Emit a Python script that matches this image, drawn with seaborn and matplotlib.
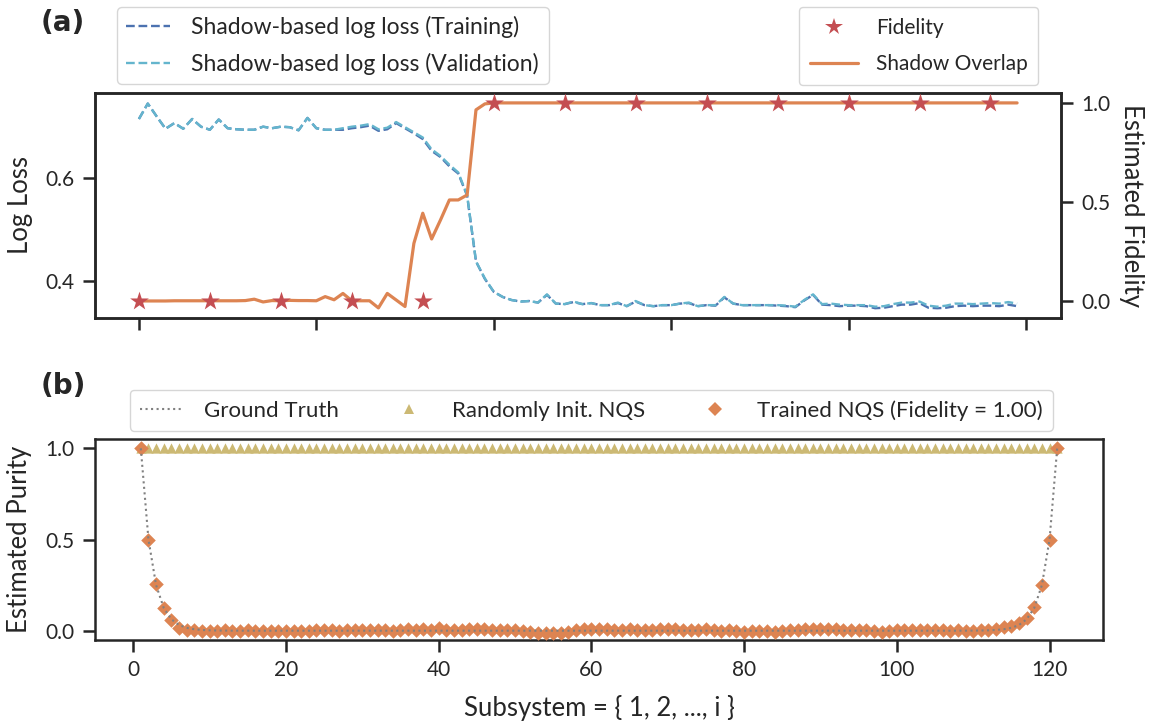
import matplotlib
matplotlib.use("Agg")
import matplotlib.pyplot as plt
import seaborn as sns
from matplotlib.lines import Line2D

# ---------------- data ----------------
epochs = list(range(100))

loss_val = [0.715, 0.745, 0.720, 0.696, 0.707, 0.696, 0.715, 0.700, 0.694, 0.714,
            0.697, 0.695, 0.694, 0.694, 0.700, 0.697, 0.700, 0.699, 0.693, 0.717,
            0.697, 0.694, 0.694, 0.697, 0.700, 0.702, 0.705, 0.695, 0.698, 0.709,
            0.699, 0.689, 0.679, 0.656, 0.643, 0.626, 0.611, 0.567, 0.438, 0.405,
            0.379, 0.369, 0.363, 0.360, 0.361, 0.358, 0.374, 0.356, 0.355, 0.360,
            0.355, 0.357, 0.353, 0.353, 0.358, 0.351, 0.361, 0.353, 0.351, 0.353,
            0.353, 0.356, 0.358, 0.351, 0.353, 0.353, 0.369, 0.356, 0.353, 0.353,
            0.353, 0.353, 0.353, 0.352, 0.350, 0.363, 0.374, 0.355, 0.356, 0.354,
            0.353, 0.353, 0.353, 0.350, 0.351, 0.355, 0.358, 0.358, 0.360, 0.352,
            0.350, 0.352, 0.356, 0.356, 0.355, 0.356, 0.357, 0.356, 0.359, 0.356]

loss_train = [0.715, 0.745, 0.720, 0.696, 0.707, 0.696, 0.715, 0.700, 0.694, 0.714,
              0.697, 0.695, 0.694, 0.694, 0.700, 0.697, 0.700, 0.699, 0.693, 0.717,
              0.697, 0.694, 0.694, 0.694, 0.697, 0.699, 0.702, 0.692, 0.695, 0.707,
              0.697, 0.687, 0.676, 0.653, 0.641, 0.623, 0.609, 0.566, 0.438, 0.404,
              0.379, 0.369, 0.363, 0.360, 0.361, 0.358, 0.373, 0.356, 0.355, 0.359,
              0.355, 0.357, 0.353, 0.353, 0.357, 0.351, 0.360, 0.353, 0.351, 0.353,
              0.353, 0.356, 0.357, 0.351, 0.353, 0.352, 0.368, 0.356, 0.353, 0.353,
              0.353, 0.353, 0.352, 0.351, 0.349, 0.362, 0.373, 0.354, 0.353, 0.351,
              0.352, 0.352, 0.351, 0.347, 0.348, 0.351, 0.354, 0.354, 0.357, 0.348,
              0.347, 0.348, 0.351, 0.352, 0.351, 0.352, 0.352, 0.351, 0.354, 0.351]

overlap = [0.000, 0.000, 0.000, 0.000, 0.001, 0.001, 0.001, 0.001, 0.001, 0.001,
           0.001, 0.001, 0.002, 0.009, -0.005, 0.002, 0.001, 0.003, 0.002, 0.002,
           0.001, 0.022, 0.006, 0.038, 0.001, 0.001, 0.001, -0.035, 0.038, 0.005,
           -0.028, 0.291, 0.443, 0.313, 0.409, 0.510, 0.510, 0.535, 0.965, 0.995,
           1.0, 1.0, 1.0, 1.0, 1.0, 1.0, 1.0, 1.0, 1.0, 1.0,
           1.0, 1.0, 1.0, 1.0, 1.0, 1.0, 1.0, 1.0, 1.0, 1.0,
           1.0, 1.0, 1.0, 1.0, 1.0, 1.0, 1.0, 1.0, 1.0, 1.0,
           1.0, 1.0, 1.0, 1.0, 1.0, 1.0, 1.0, 1.0, 1.0, 1.0,
           1.0, 1.0, 1.0, 1.0, 1.0, 1.0, 1.0, 1.0, 1.0, 1.0,
           1.0, 1.0, 1.0, 1.0, 1.0, 1.0, 1.0, 1.0, 1.0, 1.0]

fid_x = [0, 8, 16, 24, 32, 40, 48, 56, 64, 72, 80, 88, 96]
fid_y = [0.0, 0.0, 0.0, 0.0, 0.0, 1.0, 1.0, 1.0, 1.0, 1.0, 1.0, 1.0, 1.0]

subsys = list(range(1, 122))

purity_gt = [1.0, 0.5, 0.25, 0.125, 0.0625, 0.0313, 0.0156, 0.0078, 0.0039, 0.002,
             0.001, 0.0005, 0.0002, 0.0001, 0.0, 0.0, 0.0, 0.0, 0.0, 0.0,
             0.0, 0.0, 0.0, 0.0, 0.0, 0.0, 0.0, 0.0, 0.0, 0.0,
             0.0, 0.0, 0.0, 0.0, 0.0, 0.0, 0.0, 0.0, 0.0, 0.0,
             0.0, 0.0, 0.0, 0.0, 0.0, 0.0, 0.0, 0.0, 0.0, 0.0,
             0.0, 0.0, 0.0, 0.0, 0.0, 0.0, 0.0, 0.0, 0.0, 0.0,
             0.0, 0.0, 0.0, 0.0, 0.0, 0.0, 0.0, 0.0, 0.0, 0.0,
             0.0, 0.0, 0.0, 0.0, 0.0, 0.0, 0.0, 0.0, 0.0, 0.0,
             0.0, 0.0, 0.0, 0.0, 0.0, 0.0, 0.0, 0.0, 0.0, 0.0,
             0.0, 0.0, 0.0, 0.0, 0.0, 0.0, 0.0, 0.0, 0.0, 0.0,
             0.0, 0.0, 0.0, 0.0, 0.0, 0.0, 0.0, 0.0001, 0.0002, 0.0005,
             0.001, 0.002, 0.0039, 0.0078, 0.0156, 0.0313, 0.0625, 0.125, 0.25, 0.5,
             1.0]

purity_rand = [1.0, 1.0, 1.0, 1.0, 1.0, 1.0, 1.0, 1.0, 1.0, 1.0,
               1.0, 1.0, 1.0, 1.0, 1.0, 1.0, 1.0, 1.0, 1.0, 1.0,
               1.0, 1.0, 1.0, 1.0, 1.0, 1.0, 1.0, 1.0, 1.0, 1.0,
               1.0, 1.0, 1.0, 1.0, 1.0, 1.0, 1.0, 1.0, 1.0, 1.0,
               1.0, 1.0, 1.0, 1.0, 1.0, 1.0, 1.0, 1.0, 1.0, 1.0,
               1.0, 1.0, 1.0, 1.0, 1.0, 1.0, 1.0, 1.0, 1.0, 1.0,
               1.0, 1.0, 1.0, 1.0, 1.0, 1.0, 1.0, 1.0, 1.0, 1.0,
               1.0, 1.0, 1.0, 1.0, 1.0, 1.0, 1.0, 1.0, 1.0, 1.0,
               1.0, 1.0, 1.0, 1.0, 1.0, 1.0, 1.0, 1.0, 1.0, 1.0,
               1.0, 1.0, 1.0, 1.0, 1.0, 1.0, 1.0, 1.0, 1.0, 1.0,
               1.0, 1.0, 1.0, 1.0, 1.0, 1.0, 1.0, 1.0, 1.0, 1.0,
               1.0, 1.0, 1.0, 1.0, 1.0, 1.0, 1.0, 1.0, 1.0, 1.0,
               1.0]

purity_trained = [1.0, 0.50, 0.254, 0.126, 0.057, 0.016, 0.004, 0.002, 0.000, 0.001,
                  0.000, 0.002, 0.001, 0.000, 0.002, 0.001, 0.000, 0.001, -0.001, 0.000,
                  -0.003, -0.001, 0.001, 0.002, 0.003, 0.002, 0.001, 0.003, 0.002, 0.004,
                  0.003, 0.002, 0.004, 0.001, 0.003, 0.012, 0.005, 0.008, 0.004, 0.014,
                  0.003, 0.006, 0.005, 0.008, 0.010, 0.008, 0.004, 0.006, 0.002, 0.003,
                  0.000, -0.005, -0.010, -0.012, -0.010, -0.012, -0.006, 0.006, 0.008, 0.010,
                  0.008, 0.010, 0.006, 0.005, 0.012, 0.005, 0.006, 0.004, 0.008, 0.011,
                  0.007, 0.004, 0.005, 0.002, 0.010, 0.003, 0.000, 0.002, -0.003, -0.006,
                  0.000, -0.004, 0.000, -0.008, 0.000, 0.005, 0.006, 0.010, 0.008, 0.012,
                  0.008, 0.010, 0.006, 0.004, 0.002, 0.003, -0.002, -0.006, 0.000, 0.003,
                  0.004, 0.005, 0.002, 0.004, 0.003, 0.004, 0.000, 0.002, -0.002, 0.000,
                  0.002, 0.005, 0.010, 0.018, 0.027, 0.040, 0.067, 0.128, 0.250, 0.500,
                  1.0]

# ---------------- style ----------------
sns.set_theme(style="ticks", palette="deep")
plt.rcParams['font.family'] = ['Lato', 'DejaVu Sans']
plt.rcParams['axes.edgecolor'] = '#262626'
plt.rcParams['text.color'] = '#262626'
plt.rcParams['axes.labelcolor'] = '#262626'

pal = sns.color_palette("deep")
c_blue, c_orange, c_red, c_yellow, c_cyan = pal[0], pal[1], pal[3], pal[8], pal[9]

TICK_FS = 15
LABEL_FS = 18.5
W, H = 1151, 721
fig = plt.figure(figsize=(W / 100, H / 100), dpi=100)

ax1 = fig.add_axes([95 / W, (H - 318) / H, (1061 - 95) / W, (318 - 93) / H])
ax3 = fig.add_axes([95 / W, (H - 640) / H, (1103 - 95) / W, (640 - 439) / H])

# ---------------- panel (a) ----------------
sns.lineplot(x=epochs, y=loss_train, ax=ax1, color=c_blue, linestyle='--', lw=1.7)
sns.lineplot(x=epochs, y=loss_val, ax=ax1, color=c_cyan, linestyle='--', lw=1.7)
ax1.set_xlim(-4.95, 103.95)
ax1.set_ylim(0.328, 0.7655)
ax1.set_xticks([0, 20, 40, 60, 80, 100])
ax1.set_xticklabels([])
ax1.set_yticks([0.4, 0.6])
ax1.set_ylabel("Log Loss", fontsize=LABEL_FS, labelpad=9)

ax2 = ax1.twinx()
sns.lineplot(x=epochs, y=overlap, ax=ax2, color=c_orange, lw=2.3)
sns.scatterplot(x=fid_x, y=fid_y, ax=ax2, marker='*', s=200, color=c_red,
                linewidth=0, zorder=4)
ax2.set_ylim(-0.086, 1.05)
ax2.set_yticks([0.0, 0.5, 1.0])
ax2.set_ylabel("Estimated Fidelity", fontsize=LABEL_FS, rotation=270,
               va='bottom', labelpad=6)

for a in (ax1, ax2):
    a.tick_params(labelsize=TICK_FS, length=8.5, width=1.8, pad=6, colors='#262626')
    for s in a.spines.values():
        s.set_linewidth(1.8)

h_tr = Line2D([], [], color=c_blue, linestyle='--', lw=1.7)
h_va = Line2D([], [], color=c_cyan, linestyle='--', lw=1.7)
fig.legend([h_tr, h_va],
           ["Shadow-based log loss (Training)", "Shadow-based log loss (Validation)"],
           loc='upper left', bbox_to_anchor=(117 / W, 1 - 7 / H),
           bbox_transform=fig.transFigure, borderaxespad=0, fontsize=16.5,
           handlelength=1.92, handletextpad=0.92, labelspacing=0.61, borderpad=0.41,
           frameon=True)

h_f = Line2D([], [], color=c_red, marker='*', linestyle='none', markersize=13,
             markeredgewidth=0)
h_o = Line2D([], [], color=c_orange, lw=2.3)
fig.legend([h_f, h_o], ["Fidelity", "Shadow Overlap"],
           loc='upper left', bbox_to_anchor=(799 / W, 1 - 7 / H),
           bbox_transform=fig.transFigure, borderaxespad=0, fontsize=15,
           handlelength=2.3, handletextpad=0.85, labelspacing=0.78, borderpad=0.53,
           frameon=True)

# ---------------- panel (b) ----------------
sns.scatterplot(x=subsys, y=purity_rand, ax=ax3, marker='^', s=55, color=c_yellow,
                linewidth=0, zorder=2)
sns.scatterplot(x=subsys, y=purity_trained, ax=ax3, marker='D', s=55, color=c_orange,
                linewidth=0, zorder=3)
sns.lineplot(x=subsys, y=purity_gt, ax=ax3, color='gray', linestyle=':', lw=1.5,
             zorder=4)
ax3.set_xlim(-5, 127)
ax3.set_ylim(-0.051, 1.051)
ax3.set_xticks([0, 20, 40, 60, 80, 100, 120])
ax3.set_yticks([0.0, 0.5, 1.0])
ax3.set_ylabel("Estimated Purity", fontsize=LABEL_FS, labelpad=10)
ax3.set_xlabel("Subsystem = { 1, 2, ..., i }", fontsize=LABEL_FS, labelpad=11)
ax3.tick_params(labelsize=TICK_FS, length=8.5, width=1.8, pad=6, colors='#262626')
for s in ax3.spines.values():
    s.set_linewidth(1.8)

h_gt = Line2D([], [], color='gray', linestyle=':', lw=1.5)
h_r = Line2D([], [], color=c_yellow, marker='^', linestyle='none', markersize=7,
             markeredgewidth=0)
h_t = Line2D([], [], color=c_orange, marker='D', linestyle='none', markersize=7,
             markeredgewidth=0)
fig.legend([h_gt, h_r, h_t],
           ["Ground Truth", "Randomly Init. NQS", "Trained NQS (Fidelity = 1.00)"],
           loc='upper left', bbox_to_anchor=(130 / W, 1 - 390 / H),
           bbox_transform=fig.transFigure, borderaxespad=0, fontsize=16, ncol=3,
           handlelength=2.0, handletextpad=0.9, columnspacing=2.15, borderpad=0.45,
           frameon=True)

fig.text(41 / W, 1 - 9 / H, "(a)", fontsize=20, fontweight='bold', va='top', ha='left',
         family=['DejaVu Sans'])
fig.text(41 / W, 1 - 372 / H, "(b)", fontsize=20, fontweight='bold', va='top', ha='left',
         family=['DejaVu Sans'])

fig.savefig("out.png", dpi=100)
